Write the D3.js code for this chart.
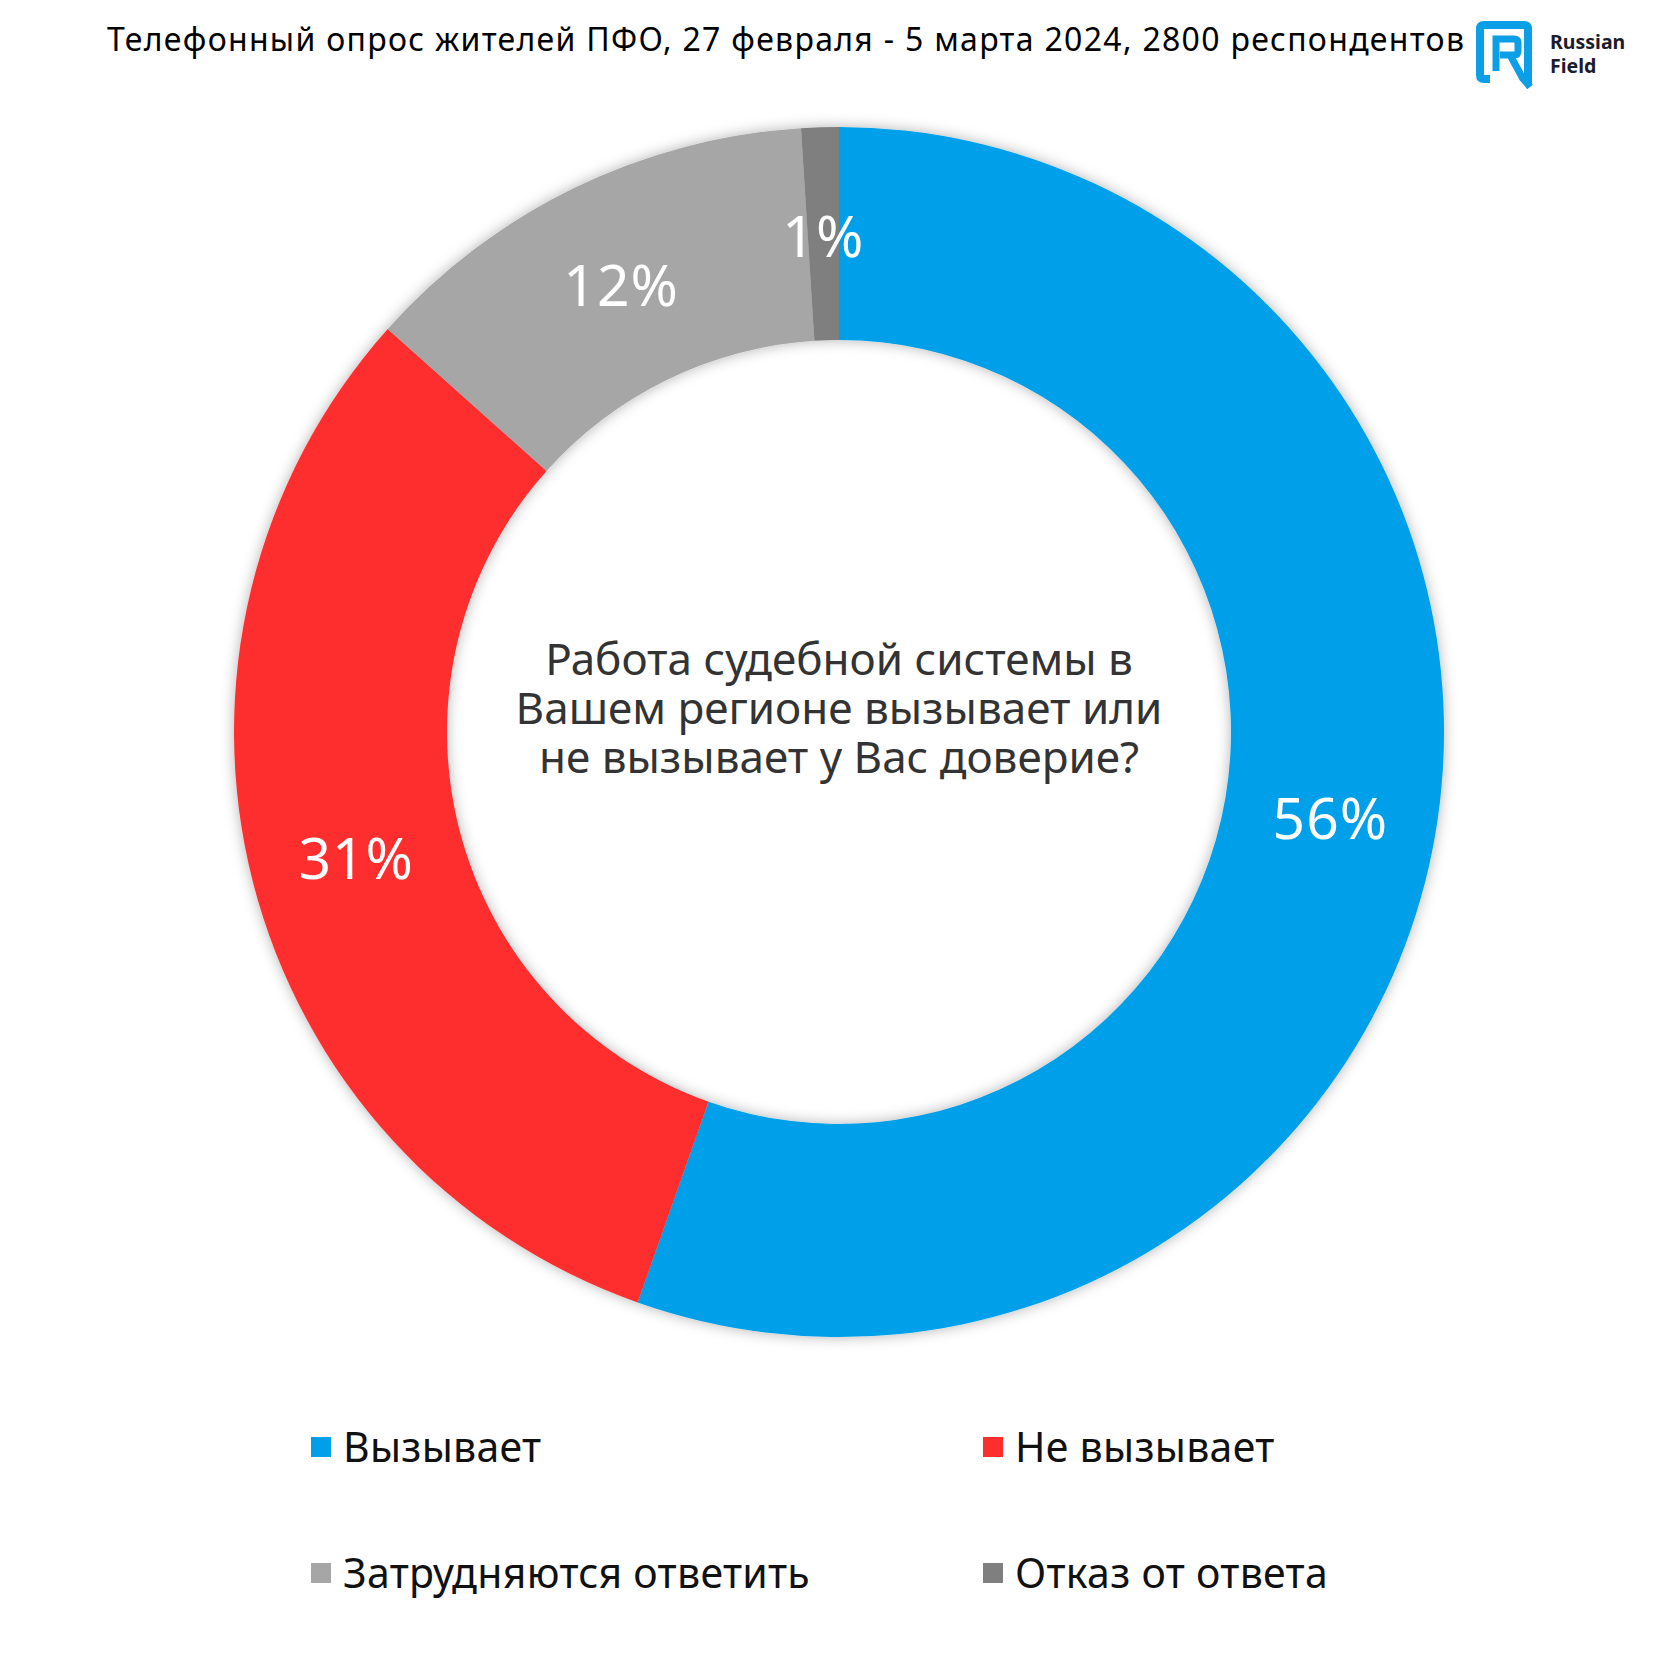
<!DOCTYPE html>
<html>
<head>
<meta charset="utf-8">
<script src="https://cdn.jsdelivr.net/npm/d3@7"></script>
<style>
  body { margin: 0; background: #fff; }
  svg { display: block; font-family: "Noto Sans", sans-serif; }
</style>
</head>
<body>
<svg width="1680" height="1680"></svg>
<script>
// data
const categories = ["Вызывает", "Не вызывает", "Затрудняются ответить", "Отказ от ответа"];
const values = [55.4, 31.2, 12.4, 1.0];
const labels = ["56%", "31%", "12%", "1%"];
const colors = ["#009fe9", "#ff2e2e", "#a6a6a6", "#7f7f7f"];

const title = "Телефонный опрос жителей ПФО, 27 февраля - 5 марта 2024, 2800 респондентов";
const question = ["Работа судебной системы в", "Вашем регионе вызывает или", "не вызывает у Вас доверие?"];

const svg = d3.select("svg");
const cx = 839, cy = 732;
const outerR = 605, innerR = 392;

// soft shadow round the ring
const defs = svg.append("defs");
defs.append("filter")
  .attr("id", "shadow")
  .attr("x", "-20%").attr("y", "-20%")
  .attr("width", "140%").attr("height", "140%")
  .append("feDropShadow")
  .attr("dx", 0).attr("dy", 0)
  .attr("stdDeviation", 7)
  .attr("flood-color", "#000")
  .attr("flood-opacity", 0.3);

const pie = d3.pie().sort(null).value(d => d);
const arc = d3.arc().innerRadius(innerR).outerRadius(outerR);
const arcs = pie(values);

const g = svg.append("g").attr("transform", `translate(${cx},${cy})`);

g.append("g")
  .attr("filter", "url(#shadow)")
  .selectAll("path")
  .data(arcs)
  .join("path")
  .attr("d", arc)
  .attr("fill", (d, i) => colors[i]);

g.selectAll(".lbl")
  .data(arcs)
  .join("text")
  .attr("class", "lbl")
  .attr("transform", d => `translate(${arc.centroid(d)})`)
  .attr("dy", "0.4em")
  .attr("text-anchor", "middle")
  .attr("fill", "#fff")
  .attr("font-size", 57)
  .attr("letter-spacing", 1)
  .text((d, i) => labels[i]);

// question in the hole
g.append("text")
  .attr("text-anchor", "middle")
  .attr("fill", "#333")
  .attr("font-size", 44)
  .selectAll("tspan")
  .data(question)
  .join("tspan")
  .attr("x", 0)
  .attr("y", (d, i) => -57 + i * 49)
  .text(d => d);

// title
svg.append("text")
  .attr("x", 107)
  .attr("y", 51)
  .attr("font-size", 32)
  .attr("letter-spacing", 1.3)
  .attr("fill", "#000")
  .text(title);

// logo
const logo = svg.append("g").attr("transform", "translate(1476,21)");
logo.append("path")
  .attr("d", "M14,58 H8 Q4,58 4,54 V8 Q4,4 8,4 H48 Q52,4 52,8 V54 L52,62 L46,56")
  .attr("fill", "none")
  .attr("stroke", "#0a9fe6")
  .attr("stroke-width", 8)
  .attr("stroke-linejoin", "round");
logo.append("path")
  .attr("d", "M20,50 V18 H38 Q42,18 42,22 V30 Q42,34 38,34 H24 M34,34 L46,56 L54,66")
  .attr("fill", "none")
  .attr("stroke", "#0a9fe6")
  .attr("stroke-width", 7);
logo.selectAll("text")
  .data(["Russian", "Field"])
  .join("text")
  .attr("x", 74)
  .attr("y", (d, i) => 28 + i * 24)
  .attr("font-size", 19.5)
  .attr("font-weight", "bold")
  .attr("fill", "#1b1b2e")
  .text(d => d);

// legend
const legX = [311, 983];
const legY = [1447, 1573];
const leg = svg.selectAll(".leg")
  .data(categories)
  .join("g")
  .attr("class", "leg")
  .attr("transform", (d, i) => `translate(${legX[i % 2]},${legY[Math.floor(i / 2)]})`);
leg.append("rect")
  .attr("x", 0).attr("y", -10)
  .attr("width", 20).attr("height", 20)
  .attr("fill", (d, i) => colors[i]);
leg.append("text")
  .attr("x", 32)
  .attr("dy", "0.36em")
  .attr("font-size", 41)
  .attr("letter-spacing", 0.3)
  .attr("fill", "#111")
  .text(d => d);
</script>
</body>
</html>
